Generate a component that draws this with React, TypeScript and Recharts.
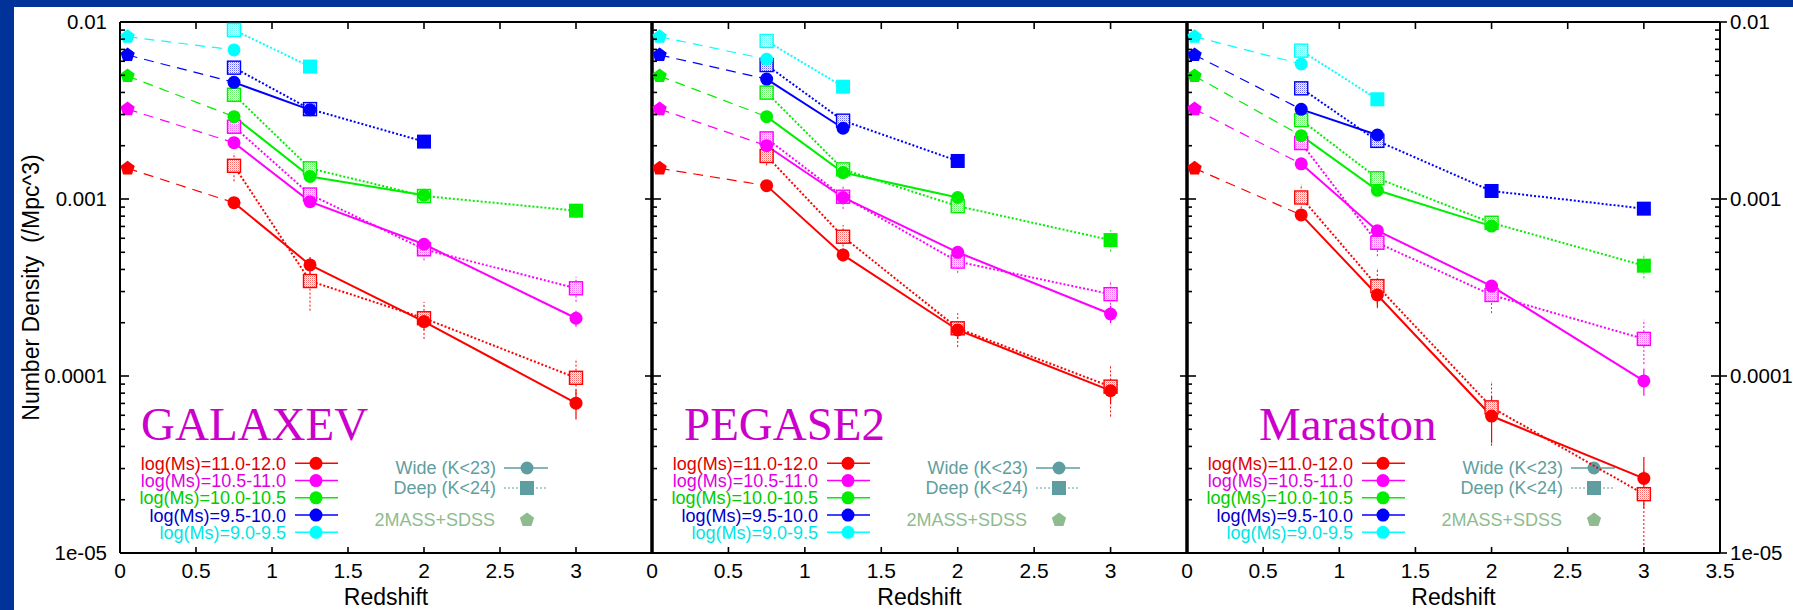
import React from 'react'
import { LineChart, Line, XAxis, YAxis, ErrorBar } from 'recharts'

// redshift bins of the K-selected samples
const redshifts = [0.75, 1.25, 2.0, 3.0]
const localRedshift = 0.05

const massBins = [
    'log(Ms)=11.0-12.0',
    'log(Ms)=10.5-11.0',
    'log(Ms)=10.0-10.5',
    'log(Ms)=9.5-10.0',
    'log(Ms)=9.0-9.5',
]

// 2MASS+SDSS local number densities, one per mass bin (same in every panel)
const local2massSdss = [0.00149, 0.00322, 0.00495, 0.00651, 0.00826]

type Val = number | null
type Err = number | [number, number] | null

// GALAXEV
const galaxevWide: Val[][] = [
    [0.000953, 0.000424, 0.000203, 0.0000702],
    [0.00208, 0.000966, 0.000555, 0.000212],
    [0.00292, 0.00134, 0.00105, null],
    [0.00456, 0.00319, null, null],
    [0.00695, null, null, null],
]
const galaxevWideErr: Err[][] = [
    [0.00006, 0.000046, 0.00002, 0.0000135],
    [0.00012, 0.00006, 0.00003, 0.000022],
    [0.00015, 0.00007, 0.00005, null],
    [0.00025, 0.00016, null, null],
    [0.0004, null, null, null],
]
const galaxevDeep: Val[][] = [
    [0.00154, 0.000344, 0.000212, 0.0000977],
    [0.00256, 0.00106, 0.00052, 0.000313],
    [0.00388, 0.00149, 0.00104, 0.000859],
    [0.00552, 0.00322, 0.00211, null],
    [0.00901, 0.0056, null, null],
]
const galaxevDeepErr: Err[][] = [
    [0.00028, 0.00011, 0.00005, 0.000027],
    [0.00018, 0.00008, 0.00007, 0.00005],
    [0.0003, 0.0001, 0.00007, 0.00008],
    [0.0004, 0.0002, 0.00012, null],
    [0.0006, 0.0003, null, null],
]

// PEGASE2
const pegaseWide: Val[][] = [
    [0.00119, 0.000483, 0.000182, 0.0000826],
    [0.002, 0.00102, 0.0005, 0.000224],
    [0.00292, 0.00141, 0.00102, null],
    [0.00476, 0.00251, null, null],
    [0.00616, null, null, null],
]
const pegaseWideErr: Err[][] = [
    [0.00007, 0.00004, 0.00002, 0.000013],
    [0.00012, 0.00006, 0.00003, 0.000025],
    [0.00015, 0.00007, 0.00005, null],
    [0.00025, 0.00015, null, null],
    [0.0004, null, null, null],
]
const pegaseDeep: Val[][] = [
    [0.00175, 0.000612, 0.000186, 0.0000871],
    [0.0022, 0.00103, 0.000443, 0.00029],
    [0.00399, 0.00147, 0.000912, 0.000586],
    [0.00571, 0.00277, 0.00164, null],
    [0.00781, 0.00431, null, null],
]
const pegaseDeepErr: Err[][] = [
    [0.0002, 0.0001, 0.00004, 0.000028],
    [0.00018, 0.00015, 0.00006, 0.00005],
    [0.0003, 0.0001, 0.00007, 0.00008],
    [0.0004, 0.0002, 0.0001, null],
    [0.0005, 0.0003, null, null],
]

// Maraston
const marastonWide: Val[][] = [
    [0.000813, 0.000287, 0.0000594, 0.0000264],
    [0.00158, 0.000662, 0.000322, 0.0000938],
    [0.00228, 0.00112, 0.000703, null],
    [0.00321, 0.0023, null, null],
    [0.00579, null, null, null],
]
const marastonWideErr: Err[][] = [
    [0.00006, 0.00004, 0.0000175, 0.0000085],
    [0.0001, 0.00005, 0.000025, 0.0000165],
    [0.00014, 0.00007, 0.00004, null],
    [0.0002, 0.00014, null, null],
    [0.0004, null, null, null],
]
const marastonDeep: Val[][] = [
    [0.00102, 0.000322, 0.0000665, 0.0000215],
    [0.00207, 0.000566, 0.000287, 0.000162],
    [0.00279, 0.00131, 0.000734, 0.00042],
    [0.00422, 0.00213, 0.00111, 0.000882],
    [0.00689, 0.00366, null, null],
]
const marastonDeepErr: Err[][] = [
    [0.00018, 0.00008, 0.000026, [0.0000115, 0.000008]],
    [0.00015, 0.00009, 0.00006, 0.000045],
    [0.0002, 0.0001, 0.00006, 0.000063],
    [0.0003, 0.00015, 0.00008, 0.00005],
    [0.0005, 0.0003, null, null],
]

const modelNames = ['GALAXEV', 'PEGASE2', 'Maraston']

// axis ticks and labels
const yMajorTicks = [1e-5, 1e-4, 1e-3, 1e-2]
const yTickLabels = ['1e-05', '0.0001', '0.001', '0.01']
const xTicks = [0, 0.5, 1, 1.5, 2, 2.5, 3, 3.5]
const xTickLabels = ['0', '0.5', '1', '1.5', '2', '2.5', '3', '3.5']

const legendWide = 'Wide (K<23)'
const legendDeep = 'Deep (K<24)'
const legendLocal = '2MASS+SDSS'

// ---- styling / layout ----
const W = 1793
const H = 610
const PLOT_TOP = 22
const PLOT_BOTTOM = 553
const FONT = "'Liberation Sans', Arial, Helvetica, sans-serif"
const SERIF = "'Liberation Serif', 'Times New Roman', serif"
const binColors = ['#ff0000', '#ff00ff', '#00ee00', '#0000ff', '#00ffff']
const binTextColors = ['#e00000', '#e000e0', '#00cc00', '#0000cc', '#00e6e6']
const WIDE_COLOR = '#5f9ea0'
const LOCAL_COLOR = '#8fbc8f'
const TITLE_COLOR = '#cc00cc'

const panelLayout = [
    { left: 120, right: 652, titleDx: 21, thickLeft: false, outwardLeft: false, maxTick: 3 },
    { left: 652, right: 1187, titleDx: 32, thickLeft: true, outwardLeft: true, maxTick: 3 },
    { left: 1187, right: 1720, titleDx: 72, thickLeft: true, outwardLeft: true, maxTick: 3.5 },
]

const models = [
    { wide: galaxevWide, wideErr: galaxevWideErr, deep: galaxevDeep, deepErr: galaxevDeepErr },
    { wide: pegaseWide, wideErr: pegaseWideErr, deep: pegaseDeep, deepErr: pegaseDeepErr },
    { wide: marastonWide, wideErr: marastonWideErr, deep: marastonDeep, deepErr: marastonDeepErr },
]

// minor log ticks 2..9 in every decade
const yMinorTicks: number[] = []
for (let d = -5; d < -2; d++) {
    for (let m = 2; m <= 9; m++) yMinorTicks.push(m * Math.pow(10, d))
}
const yAllTicks = [...yMajorTicks, ...yMinorTicks]

const isMajor = (v: number) => Math.abs(Math.log10(v) - Math.round(Math.log10(v))) < 1e-6
const yLabel = (v: number) => {
    const i = yMajorTicks.findIndex(t => Math.abs(Math.log10(t) - Math.log10(v)) < 1e-6)
    return i >= 0 ? yTickLabels[i] : ''
}
const xLabel = (v: number) => {
    const i = xTicks.findIndex(t => Math.abs(t - v) < 1e-6)
    return i >= 0 ? xTickLabels[i] : ''
}

type Pt = { z: number; v: number; e: number | [number, number]; solid: boolean }

const buildSeries = (vals: Val[], errs: Err[], ref?: Val[]): Pt[] =>
    redshifts.flatMap((z, i) =>
        vals[i] == null
            ? []
            : [{ z, v: vals[i] as number, e: errs[i] ?? 0, solid: ref ? ref[i] == null : false }]
    )

const pentagonPoints = (cx: number, cy: number, r: number) =>
    [0, 1, 2, 3, 4]
        .map(k => {
            const a = (-90 + 72 * k) * (Math.PI / 180)
            return `${cx + r * Math.cos(a)},${cy + r * Math.sin(a)}`
        })
        .join(' ')

const ok = (p: any) => Number.isFinite(p.cx) && Number.isFinite(p.cy)

const circleDot = (color: string) => (p: any) =>
    ok(p) ? <circle key={p.index} cx={p.cx} cy={p.cy} r={6.5} fill={color} /> : <g key={p.index} />

const squareDot = (color: string, hatchId: string) => (p: any) => {
    if (!ok(p)) return <g key={p.index} />
    return p.payload.solid ? (
        <rect key={p.index} x={p.cx - 7} y={p.cy - 7} width={14} height={14} fill={color} />
    ) : (
        <rect
            key={p.index}
            x={p.cx - 6.5}
            y={p.cy - 6.5}
            width={13}
            height={13}
            fill={`url(#${hatchId})`}
            stroke={color}
            strokeWidth={1.4}
        />
    )
}

const localDot = (color: string) => (p: any) =>
    ok(p) && p.index === 0 ? (
        <polygon key={p.index} points={pentagonPoints(p.cx, p.cy, 7.5)} fill={color} />
    ) : (
        <g key={p.index} />
    )

// y tick: inward tick line (major ones optionally also outward), optional label
const yTick = (side: 'left' | 'right', outward: boolean, labels: boolean) => (p: any) => {
    const { x, y, payload } = p
    const major = isMajor(payload.value)
    const dir = side === 'left' ? 1 : -1
    const len = major ? 9 : 5
    const back = major && outward ? 7 : 0
    return (
        <g key={`yt-${payload.value}`}>
            <line x1={x - dir * back} x2={x + dir * len} y1={y} y2={y} stroke='#000' strokeWidth={1.6} />
            {labels && major && (
                <text
                    x={side === 'left' ? x - 13 : x + 10}
                    y={y}
                    dy='0.36em'
                    textAnchor={side === 'left' ? 'end' : 'start'}
                    fontSize={20.5}
                    fontFamily={FONT}
                    fill='#000'
                >
                    {yLabel(payload.value)}
                </text>
            )}
        </g>
    )
}

const xTick = (top: boolean) => (p: any) => {
    const { x, y, payload } = p
    return (
        <g key={`xt-${payload.value}`}>
            <line x1={x} x2={x} y1={y} y2={top ? y + 7 : y - 6} stroke='#000' strokeWidth={1.6} />
            {!top && (
                <text x={x} y={y + 10} dy='0.71em' textAnchor='middle' fontSize={21} fontFamily={FONT} fill='#000'>
                    {xLabel(payload.value)}
                </text>
            )}
        </g>
    )
}

function PanelLegend({ x0 }: { x0: number }) {
    const rowY = (i: number) => 463.3 + i * 17.25
    return (
        <g fontFamily={FONT} fontSize={18}>
            {massBins.map((label, i) => (
                <g key={label}>
                    <text x={x0 + 166} y={rowY(i)} dy='0.36em' textAnchor='end' fill={binTextColors[i]}>
                        {label}
                    </text>
                    <line x1={x0 + 175} x2={x0 + 218} y1={rowY(i)} y2={rowY(i)} stroke={binColors[i]} strokeWidth={1.6} />
                    <circle cx={x0 + 196} cy={rowY(i)} r={6.5} fill={binColors[i]} />
                </g>
            ))}
            <text x={x0 + 376} y={468} dy='0.36em' textAnchor='end' fill={WIDE_COLOR}>
                {legendWide}
            </text>
            <line x1={x0 + 384} x2={x0 + 428} y1={468} y2={468} stroke={WIDE_COLOR} strokeWidth={1.4} />
            <circle cx={x0 + 407} cy={468} r={6.5} fill={WIDE_COLOR} />
            <text x={x0 + 376} y={488} dy='0.36em' textAnchor='end' fill={WIDE_COLOR}>
                {legendDeep}
            </text>
            <line x1={x0 + 384} x2={x0 + 428} y1={488} y2={488} stroke={WIDE_COLOR} strokeWidth={1} strokeDasharray='2 2' />
            <rect x={x0 + 400} y={481} width={14} height={14} fill={WIDE_COLOR} />
            <text x={x0 + 375} y={520} dy='0.36em' textAnchor='end' fill={LOCAL_COLOR}>
                {legendLocal}
            </text>
            <polygon points={pentagonPoints(x0 + 407, 520, 7.5)} fill={LOCAL_COLOR} />
        </g>
    )
}

function Panel({ idx }: { idx: number }) {
    const model = models[idx]
    const lay = panelLayout[idx]
    const first = idx === 0
    const last = idx === models.length - 1
    const ticks = xTicks.filter(t => t <= lay.maxTick)
    const axisStroke = { stroke: '#000', strokeWidth: 2 }

    return (
        <div style={{ position: 'absolute', left: 0, top: 0 }}>
            <LineChart
                width={W}
                height={H}
                margin={{ top: PLOT_TOP, right: last ? 0 : W - lay.right, bottom: 0, left: first ? 0 : lay.left }}
            >
                <defs>
                    {binColors.map((c, i) => (
                        <pattern key={c} id={`hatch-${i}`} width={2} height={2} patternUnits='userSpaceOnUse'>
                            <rect width={2} height={2} fill='#fff' />
                            <rect width={1} height={1} fill={c} opacity={0.6} />
                            <rect x={1} y={1} width={1} height={1} fill={c} opacity={0.25} />
                        </pattern>
                    ))}
                </defs>
                <XAxis
                    xAxisId='b'
                    type='number'
                    dataKey='z'
                    domain={[0, 3.5]}
                    allowDataOverflow
                    ticks={ticks}
                    interval={0}
                    height={H - PLOT_BOTTOM}
                    tickSize={0}
                    tickMargin={0}
                    tickLine={false}
                    axisLine={axisStroke}
                    tick={xTick(false)}
                    label={{ value: 'Redshift', position: 'insideBottom', offset: 5, fontSize: 23, fontFamily: FONT, fill: '#000' }}
                />
                <XAxis
                    xAxisId='t'
                    orientation='top'
                    mirror
                    type='number'
                    dataKey='z'
                    domain={[0, 3.5]}
                    allowDataOverflow
                    ticks={ticks.filter(t => t > 0)}
                    interval={0}
                    tickSize={0}
                    tickMargin={0}
                    tickLine={false}
                    axisLine={axisStroke}
                    tick={xTick(true)}
                />
                <YAxis
                    yAxisId='l'
                    orientation='left'
                    mirror={!first}
                    width={first ? lay.left : 60}
                    type='number'
                    scale='log'
                    domain={[1e-5, 1e-2]}
                    allowDataOverflow
                    ticks={yAllTicks}
                    interval={0}
                    tickSize={0}
                    tickMargin={0}
                    tickLine={false}
                    axisLine={{ stroke: '#000', strokeWidth: lay.thickLeft ? 3.5 : 2 }}
                    tick={yTick('left', lay.outwardLeft, first)}
                    label={
                        first
                            ? {
                                  value: 'Number Density\u00A0 (/Mpc^3)',
                                  angle: -90,
                                  position: 'insideLeft',
                                  offset: 31,
                                  fontSize: 23,
                                  fontFamily: FONT,
                                  fill: '#000',
                                  style: { textAnchor: 'middle' },
                              }
                            : undefined
                    }
                />
                {last && (
                    <YAxis
                        yAxisId='r'
                        orientation='right'
                        width={W - lay.right}
                        type='number'
                        scale='log'
                        domain={[1e-5, 1e-2]}
                        allowDataOverflow
                        ticks={yAllTicks}
                        interval={0}
                        tickSize={0}
                        tickMargin={0}
                        tickLine={false}
                        axisLine={axisStroke}
                        tick={yTick('right', true, true)}
                    />
                )}

                {/* dashed links from the local 2MASS+SDSS value to the first Wide point */}
                {massBins.map((bin, b) => (
                    <Line
                        key={`link-${bin}`}
                        xAxisId='b'
                        yAxisId='l'
                        data={[
                            { z: localRedshift, v: local2massSdss[b] },
                            { z: redshifts[0], v: model.wide[b][0] },
                        ]}
                        dataKey='v'
                        stroke={binColors[b]}
                        strokeWidth={1.2}
                        strokeDasharray='10 7'
                        dot={localDot(binColors[b])}
                        activeDot={false}
                        isAnimationActive={false}
                    />
                ))}

                {/* Deep (K<24): dotted lines, hatched squares */}
                {massBins.map((bin, b) => (
                    <Line
                        key={`deep-${bin}`}
                        xAxisId='b'
                        yAxisId='l'
                        data={buildSeries(model.deep[b], model.deepErr[b], model.wide[b])}
                        dataKey='v'
                        stroke={binColors[b]}
                        strokeWidth={2}
                        strokeDasharray='2 2'
                        dot={squareDot(binColors[b], `hatch-${b}`)}
                        activeDot={false}
                        isAnimationActive={false}
                    >
                        <ErrorBar dataKey='e' direction='y' width={0} stroke={binColors[b]} strokeWidth={1} strokeDasharray='2 2' />
                    </Line>
                ))}

                {/* Wide (K<23): solid lines, filled circles */}
                {massBins.map((bin, b) => (
                    <Line
                        key={`wide-${bin}`}
                        xAxisId='b'
                        yAxisId='l'
                        data={buildSeries(model.wide[b], model.wideErr[b])}
                        dataKey='v'
                        stroke={binColors[b]}
                        strokeWidth={2}
                        dot={circleDot(binColors[b])}
                        activeDot={false}
                        isAnimationActive={false}
                    >
                        <ErrorBar dataKey='e' direction='y' width={0} stroke={binColors[b]} strokeWidth={1.2} />
                    </Line>
                ))}

                <text x={lay.left + lay.titleDx} y={440} fontFamily={SERIF} fontSize={47} fill={TITLE_COLOR}>
                    {modelNames[idx]}
                </text>
                <PanelLegend x0={lay.left} />
            </LineChart>
        </div>
    )
}

export default function App() {
    return (
        <div style={{ position: 'absolute', left: 0, top: 0, width: W, height: H, background: '#003399', overflow: 'hidden' }}>
            <div style={{ position: 'absolute', left: 14, top: 7, right: 0, bottom: 0, background: '#fff' }} />
            {models.map((_, i) => (
                <Panel key={modelNames[i]} idx={i} />
            ))}
        </div>
    )
}
